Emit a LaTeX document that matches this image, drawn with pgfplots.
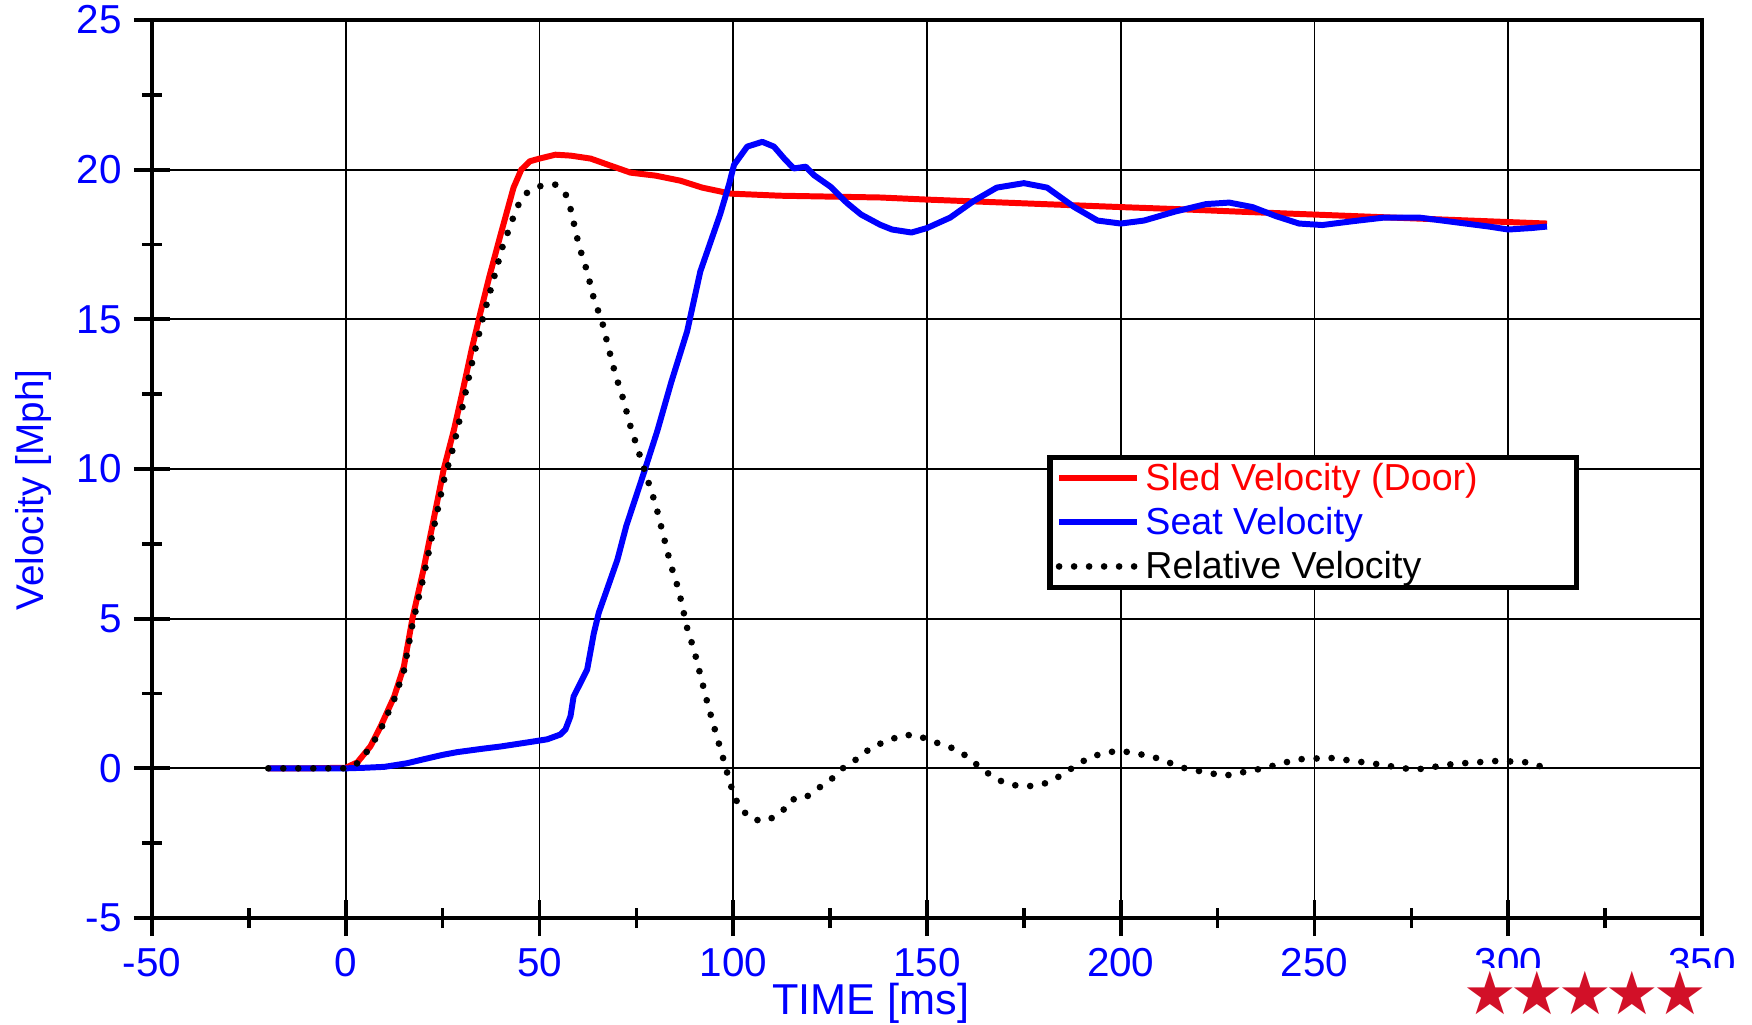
\documentclass[border=0pt]{standalone}
\usepackage{fontspec}
\setmainfont{Liberation Sans}
\newfontfamily\starfont{DejaVu Sans}
\usepackage{pgfplots}
\pgfplotsset{compat=1.18}
\usetikzlibrary{calc}
\definecolor{cRed}{RGB}{255,0,0}
\definecolor{cBlue}{RGB}{0,0,255}
\definecolor{cStar}{RGB}{210,16,40}

\begin{document}
\begin{tikzpicture}
\begin{axis}[
  name=ax,
  scale only axis, width=155mm, height=89.8mm,
  xmin=-50, xmax=350, ymin=-5, ymax=25,
  xtick={-50,0,...,350}, ytick={-5,0,...,25},
  minor x tick num=1, minor y tick num=1,
  xtick pos=bottom, ytick pos=left,
  tick align=center,
  major tick length=3.6mm, minor tick length=2mm,
  every major tick/.style={black, line width=1.1pt},
  every minor tick/.style={black, line width=1pt},
  grid=major, major grid style={black, line width=0.5pt},
  axis line style={black, line width=1.4pt},
  tick label style={text=cBlue, font=\fontsize{11.5}{13}\selectfont},
  /pgf/number format/assume math mode=true,
  xlabel={TIME [ms]}, ylabel={Velocity [Mph]},
  xlabel style={text=cBlue, font=\fontsize{12.3}{14}\selectfont,
    at={(axis description cs:0.4638,-0.0947)}, anchor=center},
  ylabel style={text=cBlue, font=\fontsize{11}{13}\selectfont,
    at={(axis description cs:-0.0762,0.4766)}, anchor=center},
  clip=false,
  legend style={at={(rel axis cs:0.5774,0.516)}, anchor=north west,
    draw=black, line width=1.6pt, fill=white,
    inner xsep=0.6mm, inner ysep=0.6mm, row sep=1.4mm,
    nodes={inner xsep=0.5mm, inner ysep=0pt, text height=2.7mm, text depth=0.3mm},
    font=\fontsize{10.7}{12}\selectfont},
  legend cell align=left,
  legend image code/.code={\draw[#1] (0mm,0mm) -- (7.8mm,0mm);},
]
\addplot[cRed, line width=1.7pt, line join=round] coordinates {
  (-20,0) (-10,0) (0,0.02) (3,0.2) (6.4,0.74) (9,1.4) (12.5,2.4) (15,3.4)
  (17.2,5.0) (20,6.6) (22.5,8.2) (25.3,10.0) (27.9,11.3) (30,12.5) (32.5,14.0)
  (34.8,15.25) (37,16.4) (39.9,17.8) (43.3,19.4) (45.3,20.0) (47.5,20.28)
  (50,20.37) (54.1,20.5) (58,20.47) (63.2,20.37) (68,20.15) (73.5,19.9) (80,19.8)
  (86.4,19.63) (92,19.4) (99.3,19.2) (112,19.13) (125,19.1) (138,19.07)
  (150,19.0) (160,18.95) (170,18.9) (180,18.85) (190,18.8) (200,18.75)
  (215,18.68) (230,18.6) (250,18.5) (270,18.4) (290,18.3) (310,18.2)
};
\addplot[cBlue, line width=1.7pt, line join=round] coordinates {
  (-20,0) (0,0) (5,0.02) (10,0.05) (15.8,0.17) (20,0.3) (25,0.45) (28.7,0.54)
  (35,0.65) (40,0.73) (47.6,0.88) (52,0.97) (55.4,1.13) (56.7,1.3) (58,1.74)
  (58.8,2.4) (60.6,2.86) (62.3,3.3) (64,4.5) (65.3,5.2) (67.4,5.97) (70.1,6.97)
  (72.4,8.1) (77,9.9) (80.4,11.27) (84,12.9) (88.1,14.6) (91.5,16.6) (96.6,18.5)
  (98.9,19.5) (100.2,20.16) (103.6,20.77) (107.5,20.93) (110.5,20.77)
  (113.1,20.38) (115.6,20.04) (118.7,20.1) (120.8,19.82) (125.1,19.43)
  (129.4,18.88) (133,18.5) (137.9,18.16) (141,18.0) (146,17.9) (150,18.05)
  (156,18.4) (162,18.95) (168,19.4) (175,19.55) (181,19.4) (188,18.75)
  (194,18.3) (200,18.2) (206,18.3) (214,18.6) (222,18.85) (228,18.9)
  (234,18.75) (240,18.45) (246,18.2) (252,18.15) (260,18.28) (268,18.4)
  (277,18.4) (286,18.25) (295,18.1) (300,18.0) (306,18.05) (310,18.1)
};
\addplot[black, line width=1.9pt, line cap=round, dash pattern=on 0pt off 1.5mm] coordinates {
  (-20,0) (0,0) (2.6,0.12) (6.4,0.7) (9,1.3) (12.5,2.3) (15,3.25) (17.2,4.8)
  (20,6.35) (22.5,7.9) (25.3,9.6) (27.9,10.8) (30,12.0) (32.5,13.5) (35.5,15.1)
  (40.4,17.4) (44.2,18.75) (46.4,19.2) (50.2,19.45) (54.1,19.5) (56.7,19.2)
  (58,18.7) (60.2,17.45) (62.3,16.6) (64,15.7) (66.2,14.9) (67.9,14.0)
  (69.6,13.15) (71.7,12.3) (73.3,11.5) (77,10.0) (80,8.8) (83.8,6.83)
  (85.9,5.97) (88.1,4.69) (90,3.9) (93.5,2.1) (95.4,1.23) (97.3,0.38)
  (99.1,-0.46) (100.2,-0.9) (101.7,-1.32) (104.9,-1.71) (108.6,-1.76)
  (112.4,-1.48) (115,-1.04) (118.3,-1.01) (121.8,-0.68) (125.5,-0.34)
  (128.6,0.04) (132.5,0.36) (135.9,0.73) (139.6,0.9) (143.5,1.11) (147.4,1.11)
  (151,0.91) (154.8,0.77) (158.6,0.56) (162.2,0.19) (166.1,-0.2) (169.6,-0.46)
  (173.5,-0.59) (177.2,-0.59) (180.9,-0.49) (184.7,-0.23) (188.5,0.1)
  (192.4,0.4) (199.4,0.6) (208,0.4) (216.6,0.0) (226.7,-0.25) (236.8,0.0)
  (245.5,0.3) (254,0.35) (265.7,0.15) (275.8,-0.05) (286,0.15) (297.5,0.25)
  (305,0.2) (310,0.0)
};
\legend{\textcolor{cRed}{\makebox[42mm][l]{Sled Velocity (Door)}},
        \textcolor{cBlue}{\makebox[42mm][l]{Seat Velocity}},
        \textcolor{black}{\makebox[42mm][l]{Relative Velocity}}}
\end{axis}
\fill[white] ($(ax.south west)+(130.8mm,-5.0mm)$) rectangle ($(ax.south west)+(160mm,-10.6mm)$);
\node[text=cStar, font=\starfont\fontsize{17}{19}\selectfont, inner sep=0pt]
  at ($(ax.south west)+(143.3mm,-7.5mm)$)
  {★\kern-0.6mm★\kern-0.6mm★\kern-0.6mm★\kern-0.6mm★};
\pgfresetboundingbox
\path[use as bounding box] ($(ax.south west)+(-15.2mm,-10.6mm)$) rectangle ($(ax.north east)+(5.0mm,2.0mm)$);
\end{tikzpicture}
\end{document}
